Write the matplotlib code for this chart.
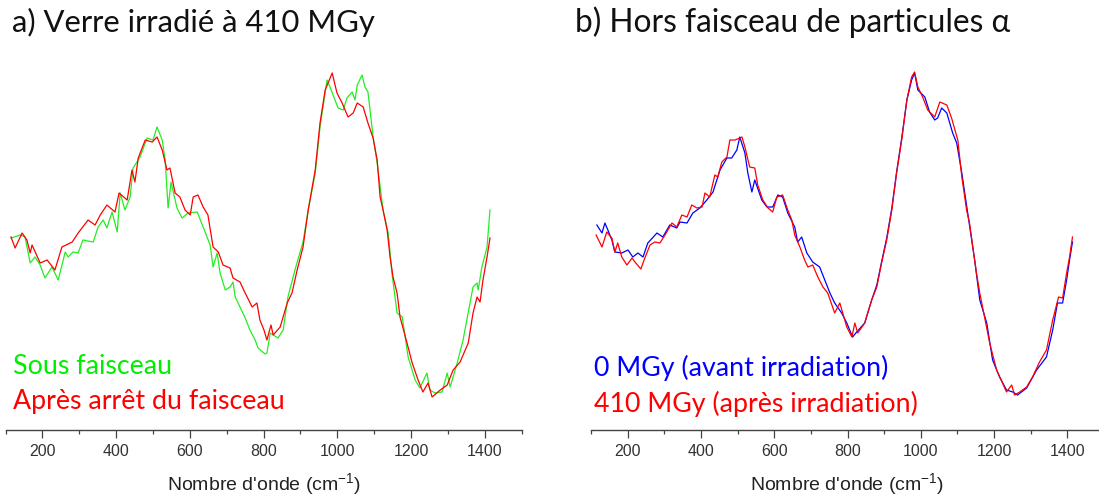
import matplotlib
matplotlib.use('Agg')
import matplotlib.pyplot as plt

plt.rcParams['mathtext.fontset'] = 'custom'
plt.rcParams['mathtext.rm'] = 'Liberation Sans'
plt.rcParams['mathtext.it'] = 'Liberation Sans'

# Raman spectra (intensity in arbitrary units)

# a) sous faisceau (green)
wn_a_sous = [115, 140, 153, 167, 180, 194, 207, 226, 243, 262, 270, 283, 297, 310, 338, 351,
             365, 375, 389, 403, 411, 424, 438, 446, 465, 484, 500, 511, 525, 533, 541, 549,
             565, 579, 595, 620, 636, 655, 663, 674, 682, 696, 709, 717, 723, 736, 750, 763,
             777, 785, 804, 809, 818, 839, 853, 866, 885, 907, 921, 940, 953, 972, 980, 1002,
             1016, 1026, 1040, 1048, 1054, 1067, 1075, 1083, 1097, 1108, 1124, 1138, 1148, 1162,
             1176, 1192, 1211, 1224, 1243, 1251, 1265, 1284, 1298, 1306, 1325, 1341, 1368, 1379,
             1382, 1392, 1406, 1414]
int_a_sous = [192, 195, 193, 167, 173, 165, 152, 163, 150, 178, 173, 178, 177, 190, 188, 203,
              210, 202, 218, 198, 237, 220, 233, 262, 273, 292, 290, 303, 290, 270, 222, 248,
              222, 212, 217, 218, 203, 185, 163, 177, 157, 140, 143, 148, 133, 123, 112, 100,
              90, 82, 76, 77, 97, 92, 100, 133, 160, 188, 220, 257, 303, 350, 343, 322,
              320, 332, 338, 330, 345, 355, 343, 338, 293, 267, 220, 197, 157, 117,
              113, 73, 50, 42, 57, 40, 37, 38, 57, 43, 67, 90, 143, 147,
              140, 163, 183, 220]

# a) après arrêt du faisceau (red)
wn_a_apres = [115, 126, 145, 158, 167, 172, 194, 213, 234, 253, 281, 297, 324, 343, 357, 375,
              397, 408, 430, 443, 451, 460, 479, 498, 511, 525, 538, 546, 560, 573, 587, 601,
              609, 622, 636, 649, 663, 677, 690, 709, 717, 736, 750, 769, 782, 790, 801, 809,
              820, 826, 845, 864, 877, 891, 907, 921, 940, 953, 967, 986, 999, 1013, 1029, 1043,
              1054, 1070, 1083, 1097, 1108, 1116, 1124, 1135, 1143, 1151, 1162, 1170, 1189, 1203,
              1219, 1232, 1246, 1257, 1279, 1298, 1314, 1333, 1355, 1368, 1379, 1387, 1395, 1406,
              1414]
int_a_apres = [193, 182, 197, 190, 177, 185, 167, 170, 160, 183, 188, 197, 210, 205, 215, 225,
               218, 237, 230, 260, 248, 272, 290, 288, 293, 280, 260, 262, 237, 233, 220, 215,
               233, 235, 223, 215, 183, 178, 165, 162, 152, 148, 137, 123, 127, 110, 100, 90,
               105, 95, 103, 127, 137, 160, 183, 220, 260, 307, 340, 357, 337, 327, 313, 317,
               327, 323, 307, 292, 270, 233, 220, 200, 173, 153, 137, 113, 87, 67,
               50, 38, 47, 33, 40, 45, 60, 68, 87, 117, 133, 128, 150, 173,
               192]

# b) 0 MGy, avant irradiation (blue)
wn_b_0 = [116, 130, 138, 146, 157, 165, 184, 201, 214, 228, 242, 255, 280, 296, 315, 334,
          343, 362, 378, 397, 416, 433, 452, 471, 484, 498, 506, 520, 528, 539, 547, 566,
          580, 596, 610, 623, 637, 656, 664, 675, 689, 705, 724, 738, 752, 765, 784, 798,
          814, 825, 847, 866, 880, 893, 907, 921, 934, 948, 962, 975, 983, 992, 1011, 1024,
          1038, 1046, 1057, 1071, 1087, 1098, 1112, 1128, 1147, 1161, 1180, 1196, 1215, 1234,
          1251, 1264, 1289, 1316, 1343, 1360, 1373, 1387, 1398, 1406, 1414]
int_b_0 = [205, 197, 207, 200, 190, 178, 177, 180, 173, 177, 173, 187, 197, 193, 205, 202,
           208, 207, 217, 222, 230, 238, 260, 272, 272, 280, 293, 277, 257, 238, 250, 230,
           223, 223, 235, 233, 217, 203, 188, 193, 177, 168, 163, 150, 137, 127, 117, 107,
           93, 98, 107, 130, 145, 168, 192, 222, 258, 292, 330, 350, 357, 340, 333, 318,
           310, 312, 322, 317, 297, 287, 257, 217, 170, 130, 107, 70, 53, 40,
           38, 35, 42, 60, 73, 100, 127, 127, 150, 170, 188]

# b) 410 MGy, après irradiation (red)
wn_b_410 = [114, 130, 143, 157, 165, 173, 184, 198, 212, 220, 236, 247, 261, 274, 288, 302,
            321, 334, 348, 362, 375, 389, 403, 411, 424, 438, 446, 457, 471, 479, 493, 512,
            520, 533, 547, 555, 569, 583, 596, 607, 623, 637, 648, 656, 670, 683, 692, 705,
            719, 733, 746, 765, 779, 787, 798, 812, 820, 828, 847, 866, 880, 893, 907, 921,
            934, 948, 962, 975, 983, 992, 1005, 1019, 1038, 1052, 1071, 1084, 1101, 1112,
            1125, 1133, 1142, 1152, 1161, 1174, 1188, 1207, 1223, 1234, 1248, 1256, 1270, 1289,
            1305, 1324, 1343, 1360, 1376, 1387, 1398, 1406, 1414]
int_b_410 = [195, 183, 198, 192, 178, 187, 173, 165, 172, 168, 161, 172, 185, 188, 187, 195,
             207, 203, 215, 213, 225, 222, 223, 237, 233, 255, 253, 268, 273, 290, 290, 293,
             283, 263, 262, 245, 230, 222, 218, 233, 235, 220, 210, 195, 183, 170, 163, 165,
             153, 143, 137, 117, 127, 117, 103, 93, 107, 97, 107, 130, 143, 167, 190, 220,
             257, 290, 330, 353, 358, 343, 333, 320, 313, 328, 325, 312, 290, 253,
             220, 207, 183, 157, 137, 113, 87, 60, 47, 38, 45, 35, 38, 43,
             53, 68, 80, 110, 133, 132, 157, 173, 193]

legend_a = ['Sous faisceau', 'Après arrêt du faisceau']
legend_b = ['0 MGy (avant irradiation)', '410 MGy (après irradiation)']
titles = ['a) Verre irradié à 410 MGy', 'b) Hors faisceau de particules α']

GREEN = '#22ee22'
RED = '#ff0000'
BLUE = '#0000ff'

W, H = 1099, 497
fig = plt.figure(figsize=(W / 100, H / 100), dpi=100)

def px_box(x0, x1, ytop, ybot):
    return [x0 / W, 1 - ybot / H, (x1 - x0) / W, (ybot - ytop) / H]

ax_a = fig.add_axes(px_box(5.5, 521.7, 60, 430))
ax_b = fig.add_axes(px_box(591, 1104, 60, 430))

ax_a.plot(wn_a_sous, int_a_sous, color=GREEN, lw=0.9)
ax_a.plot(wn_a_apres, int_a_apres, color=RED, lw=0.9)
ax_b.plot(wn_b_0, int_b_0, color=BLUE, lw=0.9)
ax_b.plot(wn_b_410, int_b_410, color=RED, lw=0.9)

for ax in (ax_a, ax_b):
    ax.set_xlim(100, 1500)
    ax.set_ylim(0, 370)
    for s in ('top', 'left', 'right'):
        ax.spines[s].set_visible(False)
    ax.spines['bottom'].set_color('#444444')
    ax.spines['bottom'].set_linewidth(1.0)
    ax.set_yticks([])
    ax.set_xticks(range(200, 1401, 200))
    ax.set_xticks(range(100, 1501, 100), minor=True)
    ax.tick_params(axis='x', which='major', direction='out', length=6, width=0.9,
                   color='#444444', labelsize=11.5, labelcolor='#333333', pad=4)
    ax.tick_params(axis='x', which='minor', direction='out', length=3, width=0.9,
                   color='#444444')
    for lab in ax.get_xticklabels():
        lab.set_fontfamily('Liberation Sans')
    ax.set_xlabel("Nombre d'onde (cm$^{-1}$)", fontsize=14, family='Liberation Sans',
                  color='#222222', labelpad=9)
    ax.patch.set_alpha(0)

fig.text(12 / W, 1 - 22 / H, titles[0], fontsize=22.3, family='Lato', va='center',
         ha='left', color='#111111')
fig.text(575 / W, 1 - 22 / H, titles[1], fontsize=22.8, family='Lato', va='center',
         ha='left', color='#111111')

fig.text(13 / W, 1 - 366 / H, legend_a[0], fontsize=19.3, family='Lato', color='#00ee00',
         va='center', ha='left')
fig.text(13 / W, 1 - 401 / H, legend_a[1], fontsize=19.3, family='Lato', color=RED,
         va='center', ha='left')
fig.text(594 / W, 1 - 368 / H, legend_b[0], fontsize=19.3, family='Lato', color=BLUE,
         va='center', ha='left')
fig.text(594 / W, 1 - 404 / H, legend_b[1], fontsize=19.3, family='Lato', color=RED,
         va='center', ha='left')

fig.savefig('out.png', dpi=100)
